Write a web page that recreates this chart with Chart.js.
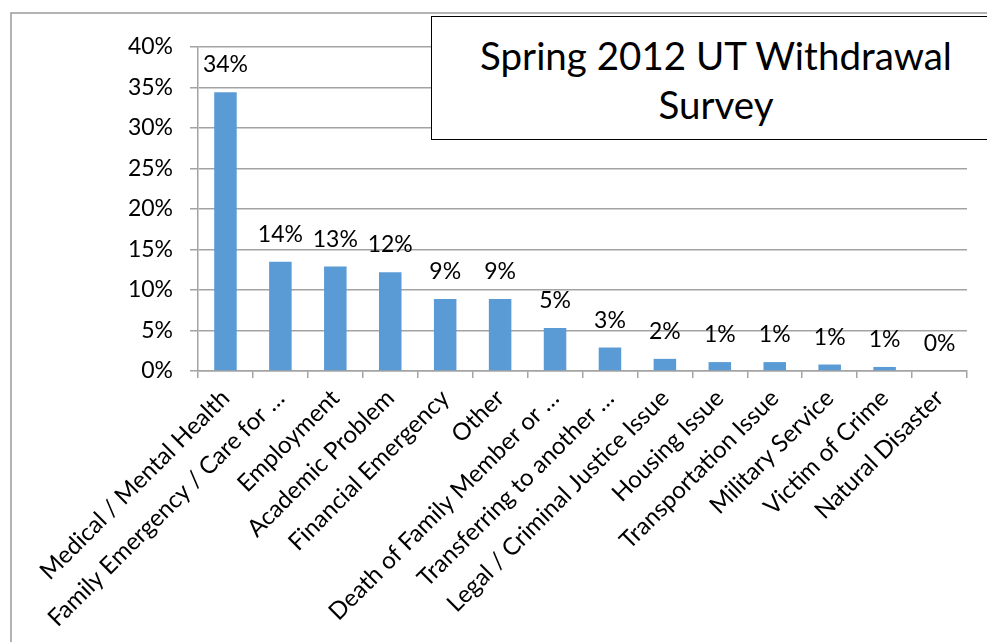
<!DOCTYPE html>
<html lang="en">
<head>
  <meta charset="UTF-8">
  <title>Spring 2012 UT Withdrawal Survey</title>
  <style>
    html, body { margin: 0; padding: 0; background: #fff; overflow: hidden; }
    #wrap { position: relative; width: 987px; height: 642px; }
    #titulo {
      position: absolute; left: 431px; top: 16px; width: 570px; height: 124px;
      border: 1.5px solid #000; background: #fff; box-sizing: border-box;
      font-family: Lato, sans-serif; font-size: 38.5px; color: #000;
      text-align: center; line-height: 49px; padding-top: 14px;
    }
  </style>
</head>
<body>
  <div id="wrap">
    <canvas id="chart" width="987" height="642"></canvas>
    <div id="titulo">Spring 2012 UT Withdrawal<br>Survey</div>
  </div>

  <script src="https://cdn.jsdelivr.net/npm/chart.js"></script>
  <script>
    const reasons = [
      "Medical / Mental Health",
      "Family Emergency / Care for …",
      "Employment",
      "Academic Problem",
      "Financial Emergency",
      "Other",
      "Death of Family Member or …",
      "Transferring to another …",
      "Legal / Criminal Justice Issue",
      "Housing Issue",
      "Transportation Issue",
      "Military Service",
      "Victim of Crime",
      "Natural Disaster"
    ];
    // percent of respondents
    const shares = [34.4, 13.5, 12.9, 12.2, 8.9, 8.9, 5.3, 2.9, 1.5, 1.1, 1.1, 0.8, 0.5, 0];
    const yTicks = [0, 5, 10, 15, 20, 25, 30, 35, 40];

    const fuente = "Lato, sans-serif";
    const gris = "#a3a3a3";

    // marco gris del gráfico
    const marco = {
      id: 'marco',
      beforeDraw(chart) {
        const ctx = chart.ctx;
        ctx.save();
        ctx.strokeStyle = "#9a9a9a";
        ctx.lineWidth = 1.5;
        ctx.beginPath();
        ctx.moveTo(11, 642);
        ctx.lineTo(11, 13);
        ctx.lineTo(987, 13);
        ctx.stroke();
        ctx.restore();
      }
    };

    // etiquetas de valor encima de cada barra
    const etiquetas = {
      id: 'etiquetas',
      afterDatasetsDraw(chart) {
        const ctx = chart.ctx;
        const meta = chart.getDatasetMeta(0);
        ctx.save();
        ctx.font = "23px " + fuente;
        ctx.fillStyle = "#000";
        ctx.textAlign = "center";
        ctx.textBaseline = "alphabetic";
        meta.data.forEach((bar, i) => {
          ctx.fillText(Math.round(shares[i]) + "%", bar.x, bar.y - 20);
        });
        ctx.restore();
      }
    };

    new Chart(document.getElementById('chart'), {
      type: 'bar',
      data: {
        labels: reasons,
        datasets: [{
          data: shares,
          backgroundColor: '#5b9bd5',
          categoryPercentage: 1,
          barPercentage: 0.41
        }]
      },
      options: {
        responsive: false,
        animation: false,
        events: [],
        layout: { padding: { left: 0, top: 47, right: 20, bottom: 0 } },
        plugins: { legend: { display: false }, tooltip: { enabled: false } },
        scales: {
          x: {
            grid: { drawOnChartArea: false, offset: true, tickLength: 7, color: gris, lineWidth: 1.5 },
            border: { color: gris, width: 1.5 },
            ticks: {
              autoSkip: false, maxRotation: 45, minRotation: 45, padding: 6,
              color: '#000', font: { family: fuente, size: 24 }
            },
            afterFit(scale) { scale.height = 271; }
          },
          y: {
            min: 0, max: 40,
            afterBuildTicks(scale) { scale.ticks = yTicks.map(v => ({ value: v })); },
            grid: { color: gris, lineWidth: 1.5, tickLength: 8 },
            border: { color: gris, width: 1.5 },
            ticks: {
              padding: 17, color: '#000', font: { family: fuente, size: 23 },
              callback: v => v + '%'
            },
            afterFit(scale) { scale.width = 198; }
          }
        }
      },
      plugins: [marco, etiquetas]
    });
  </script>
</body>
</html>
